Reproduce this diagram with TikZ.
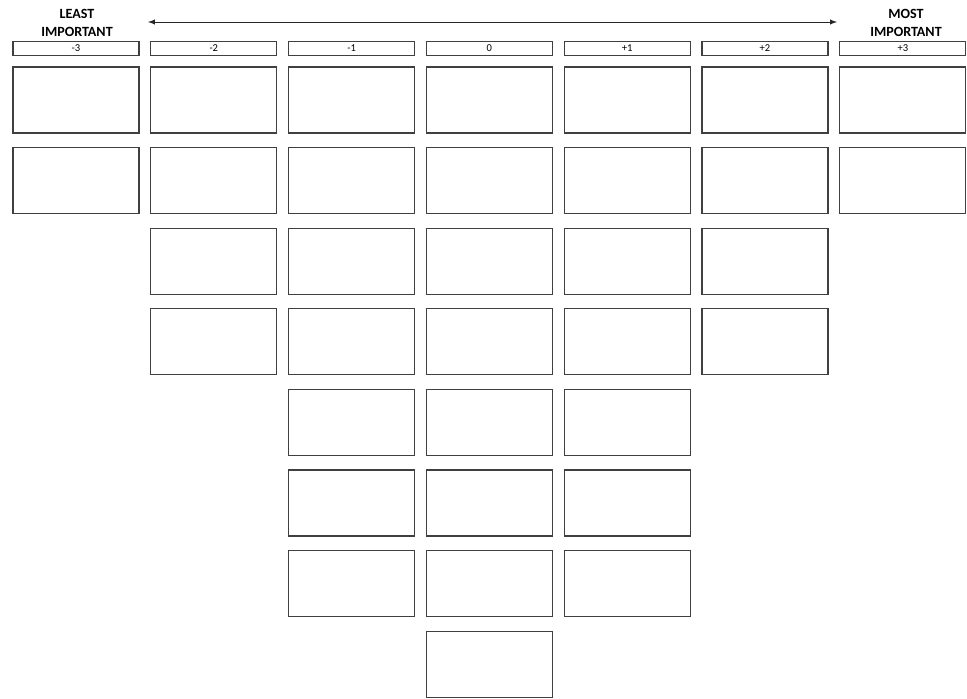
\documentclass[tikz,border=0pt]{standalone}
\usepackage{fontspec}
\setmainfont{Carlito}
\begin{document}
\begin{tikzpicture}[>=latex, x=0.025cm, y=-0.025cm]
  % dimensions
  \def\P{137.8} % pas horizontal entre colonnes
  \def\Q{80.6}  % pas vertical entre lignes
  \useasboundingbox (0,0) rectangle (967,698);
  \tikzset{
    case/.style={draw=black!75, line width=0.75pt, minimum width=3.15cm, minimum height=1.65cm, inner sep=0pt},
    entete/.style={draw=black!75, line width=0.75pt, minimum width=3.15cm, minimum height=0.33cm, inner sep=0pt, font=\fontsize{7.5}{8}\selectfont},
    titre/.style={align=center, font=\bfseries\fontsize{10}{12.8}\selectfont, inner sep=0pt}
  }

  % titres et fleche
  \node[titre] (least) at (77,23) {LEAST\\IMPORTANT};
  \node[titre] (most) at (906,23) {MOST\\IMPORTANT};
  \coordinate (g) at (148,22);
  \coordinate (d) at (837,22);
  \draw[<->, black!85, line width=0.7pt] (g) -- (d);

  % en-tetes des colonnes
  \foreach \v [count=\i from 0] in {-3,-2,-1,0,+1,+2,+3}
    \node[entete] (h\i) at (76+\i*\P,48.5) {\v};

  % cases de la grille
  \foreach \n [count=\i from 0] in {2,4,7,8,7,4,2}
    \foreach \r in {1,...,\n}
      \node[case] (c\i-\r) at (76+\i*\P,100+\r*\Q-\Q) {};
\end{tikzpicture}
\end{document}
